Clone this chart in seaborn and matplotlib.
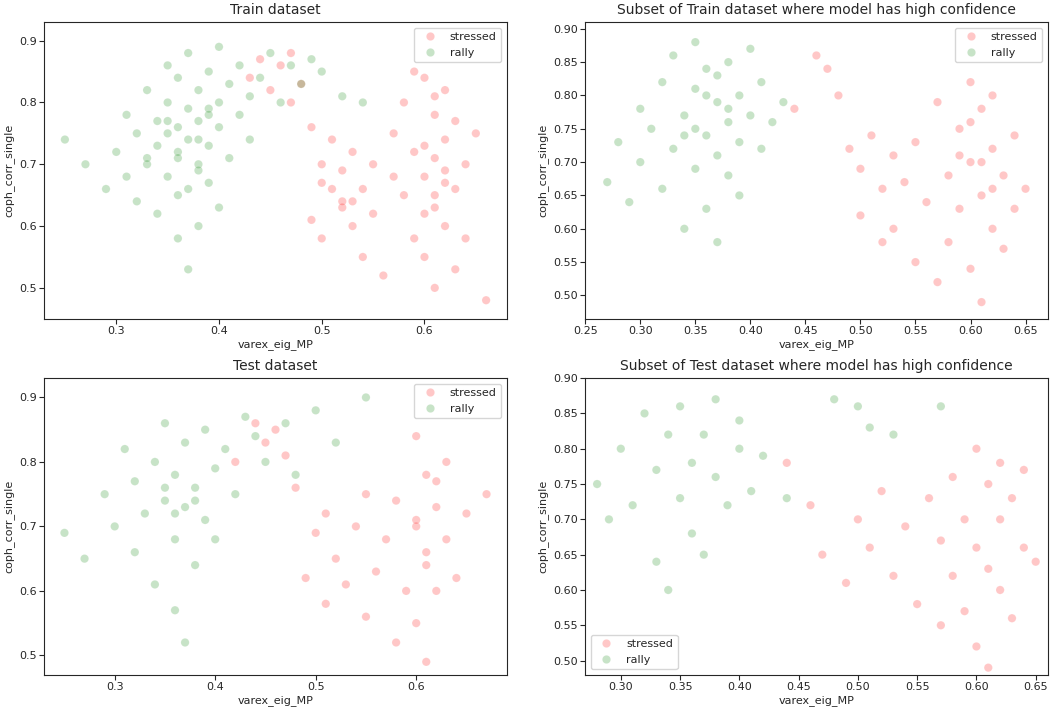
import matplotlib
matplotlib.use("Agg")
import matplotlib.pyplot as plt
import seaborn as sns
import pandas as pd

# Train dataset
train_rally_x = [0.25,0.27,0.29,0.30,0.31,0.31,0.32,0.32,0.33,0.33,0.34,0.34,0.34,0.35,0.35,0.35,0.36,0.36,0.36,0.36,0.37,0.37,0.37,0.37,0.38,0.38,0.38,0.38,0.39,0.39,0.39,0.40,0.40,0.40,0.41,0.41,0.42,0.42,0.43,0.43,0.44,0.45,0.46,0.47,0.48,0.49,0.50,0.52,0.54,0.36,0.38,0.35,0.40,0.33,0.39,0.37,0.36,0.38,0.35,0.39]
train_rally_y = [0.74,0.70,0.66,0.72,0.78,0.68,0.75,0.64,0.82,0.70,0.77,0.62,0.73,0.86,0.68,0.80,0.58,0.72,0.76,0.84,0.66,0.74,0.79,0.88,0.70,0.77,0.82,0.60,0.73,0.85,0.67,0.76,0.80,0.89,0.71,0.83,0.78,0.86,0.81,0.74,0.84,0.88,0.80,0.86,0.83,0.87,0.85,0.81,0.80,0.65,0.69,0.75,0.63,0.71,0.79,0.53,0.71,0.74,0.77,0.78]
train_stress_x = [0.43,0.44,0.45,0.46,0.47,0.48,0.49,0.50,0.50,0.51,0.51,0.52,0.52,0.53,0.53,0.54,0.54,0.55,0.55,0.56,0.57,0.58,0.58,0.59,0.59,0.60,0.60,0.60,0.61,0.61,0.61,0.61,0.62,0.62,0.62,0.63,0.63,0.64,0.64,0.65,0.66,0.57,0.60,0.62,0.59,0.52,0.49,0.47,0.63,0.61,0.60,0.62,0.61,0.50,0.53]
train_stress_y = [0.84,0.87,0.82,0.86,0.80,0.83,0.61,0.70,0.58,0.66,0.74,0.63,0.69,0.60,0.72,0.66,0.55,0.70,0.62,0.52,0.75,0.65,0.80,0.58,0.72,0.84,0.68,0.55,0.78,0.63,0.71,0.50,0.74,0.60,0.82,0.66,0.77,0.70,0.58,0.75,0.48,0.68,0.62,0.67,0.85,0.64,0.76,0.88,0.53,0.81,0.73,0.69,0.65,0.67,0.64]

# Train subset, high confidence
sub_train_rally_x = [0.27,0.28,0.29,0.30,0.30,0.31,0.32,0.32,0.33,0.33,0.34,0.34,0.35,0.35,0.35,0.36,0.36,0.36,0.37,0.37,0.37,0.38,0.38,0.38,0.39,0.39,0.40,0.40,0.41,0.41,0.42,0.43,0.34,0.36,0.38,0.37,0.35,0.39]
sub_train_rally_y = [0.67,0.73,0.64,0.70,0.78,0.75,0.66,0.82,0.72,0.86,0.60,0.77,0.69,0.81,0.88,0.74,0.63,0.84,0.79,0.71,0.58,0.76,0.85,0.68,0.80,0.73,0.77,0.87,0.72,0.82,0.76,0.79,0.74,0.80,0.78,0.83,0.75,0.65]
sub_train_stress_x = [0.44,0.46,0.47,0.48,0.49,0.50,0.50,0.51,0.52,0.52,0.53,0.53,0.54,0.55,0.55,0.56,0.57,0.57,0.58,0.58,0.59,0.59,0.60,0.60,0.60,0.61,0.61,0.61,0.62,0.62,0.62,0.63,0.63,0.64,0.64,0.65,0.60,0.61,0.62,0.59]
sub_train_stress_y = [0.78,0.86,0.84,0.80,0.72,0.62,0.69,0.74,0.58,0.66,0.71,0.60,0.67,0.55,0.73,0.64,0.79,0.52,0.68,0.58,0.75,0.63,0.82,0.70,0.54,0.78,0.65,0.49,0.72,0.60,0.80,0.68,0.57,0.74,0.63,0.66,0.76,0.70,0.66,0.71]

# Test dataset
test_rally_x = [0.25,0.27,0.29,0.30,0.31,0.32,0.32,0.33,0.34,0.34,0.35,0.35,0.36,0.36,0.36,0.37,0.37,0.38,0.38,0.39,0.39,0.40,0.40,0.41,0.42,0.43,0.44,0.45,0.47,0.48,0.50,0.52,0.55,0.36,0.38,0.35,0.37]
test_rally_y = [0.69,0.65,0.75,0.70,0.82,0.66,0.77,0.72,0.61,0.80,0.74,0.86,0.57,0.68,0.78,0.73,0.83,0.64,0.76,0.71,0.85,0.79,0.68,0.82,0.75,0.87,0.84,0.80,0.86,0.78,0.88,0.83,0.90,0.72,0.74,0.76,0.52]
test_stress_x = [0.42,0.44,0.45,0.46,0.47,0.48,0.49,0.50,0.51,0.51,0.52,0.53,0.54,0.55,0.55,0.56,0.57,0.58,0.58,0.59,0.60,0.60,0.60,0.61,0.61,0.61,0.62,0.62,0.63,0.63,0.64,0.65,0.67,0.61,0.62,0.60]
test_stress_y = [0.80,0.86,0.83,0.85,0.81,0.76,0.62,0.69,0.58,0.72,0.65,0.61,0.70,0.56,0.75,0.63,0.68,0.52,0.74,0.60,0.84,0.70,0.55,0.78,0.64,0.49,0.73,0.60,0.68,0.80,0.62,0.72,0.75,0.66,0.77,0.71]

# Test subset, high confidence
sub_test_rally_x = [0.28,0.29,0.30,0.31,0.32,0.33,0.33,0.34,0.34,0.35,0.35,0.36,0.36,0.37,0.37,0.38,0.38,0.39,0.40,0.40,0.41,0.42,0.44,0.48,0.50,0.51,0.53,0.57]
sub_test_rally_y = [0.75,0.70,0.80,0.72,0.85,0.64,0.77,0.60,0.82,0.73,0.86,0.68,0.78,0.82,0.65,0.76,0.87,0.72,0.80,0.84,0.74,0.79,0.73,0.87,0.86,0.83,0.82,0.86]
sub_test_stress_x = [0.44,0.46,0.47,0.49,0.50,0.51,0.52,0.53,0.54,0.55,0.56,0.57,0.57,0.58,0.58,0.59,0.59,0.60,0.60,0.60,0.61,0.61,0.61,0.62,0.62,0.62,0.63,0.63,0.64,0.64,0.65]
sub_test_stress_y = [0.78,0.72,0.65,0.61,0.70,0.66,0.74,0.62,0.69,0.58,0.73,0.67,0.55,0.76,0.62,0.70,0.57,0.80,0.66,0.52,0.75,0.63,0.49,0.78,0.60,0.70,0.73,0.56,0.66,0.77,0.64]

panels = [
    ("Train dataset", train_stress_x, train_stress_y, train_rally_x, train_rally_y, "upper right", (0.23, 0.68), (0.45, 0.93)),
    ("Subset of Train dataset where model has high confidence", sub_train_stress_x, sub_train_stress_y, sub_train_rally_x, sub_train_rally_y, "upper right", (0.25, 0.67), (0.465, 0.91)),
    ("Test dataset", test_stress_x, test_stress_y, test_rally_x, test_rally_y, "upper right", (0.23, 0.69), (0.47, 0.93)),
    ("Subset of Test dataset where model has high confidence", sub_test_stress_x, sub_test_stress_y, sub_test_rally_x, sub_test_rally_y, "lower left", (0.27, 0.66), (0.48, 0.90)),
]

sns.set_style("ticks")
fig, axes = plt.subplots(2, 2, figsize=(10.56, 7.14), dpi=100)
for ax, (title, sx, sy, rx, ry, loc, xl, yl) in zip(axes.flat, panels):
    df = pd.concat([
        pd.DataFrame({"x": sx, "y": sy, "label": "stressed"}),
        pd.DataFrame({"x": rx, "y": ry, "label": "rally"}),
    ])
    sns.scatterplot(data=df, x="x", y="y", hue="label",
                    palette={"stressed": "red", "rally": "green"},
                    alpha=0.22, s=36, ax=ax)
    ax.set_xlim(*xl)
    ax.set_ylim(*yl)
    ax.set_title(title, fontsize=10)
    ax.set_xlabel("varex_eig_MP", fontsize=8, labelpad=2)
    ax.set_ylabel("coph_corr_single", fontsize=8, labelpad=3)
    ax.tick_params(labelsize=8, pad=2)
    ax.legend(loc=loc, fontsize=8)
fig.subplots_adjust(left=0.042, right=0.992, top=0.969, bottom=0.055, hspace=0.2, wspace=0.17)
fig.savefig("out.png")
